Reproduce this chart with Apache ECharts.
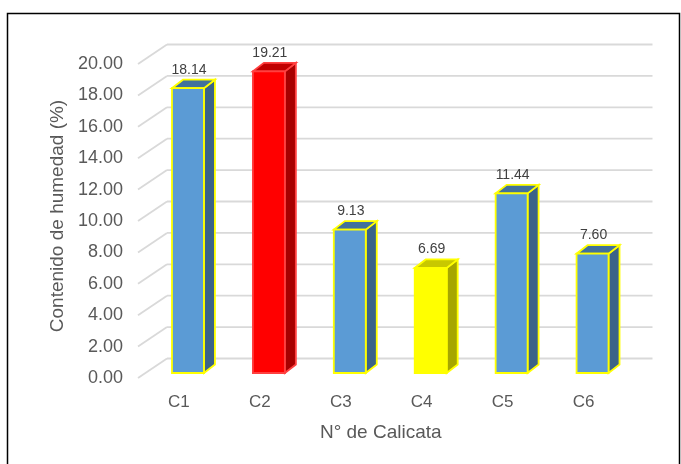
<!DOCTYPE html>
<html><head><meta charset="utf-8">
<script src="https://cdn.jsdelivr.net/npm/echarts@6/dist/echarts.min.js"></script>
<style>html,body{margin:0;padding:0;background:#fff}#c{width:681px;height:464px}</style>
</head><body><div id="c"></div>
<script>
// ---- data ----
const categories = ['C1', 'C2', 'C3', 'C4', 'C5', 'C6'];
const values = [18.14, 19.21, 9.13, 6.69, 11.44, 7.60];
const barKinds = ['blue', 'red', 'blue', 'yellow', 'blue', 'blue'];
const yTicks = [0, 2, 4, 6, 8, 10, 12, 14, 16, 18, 20];
const xTitle = 'N° de Calicata';
const yTitle = 'Contenido de humedad (%)';

// ---- style ----
const FONT = "'Liberation Sans', Arial, sans-serif";
const palette = {
  blue:   { front: '#5B9BD5', side: '#3B6388', top: '#41719C', edge: '#FFFF00' },
  red:    { front: '#FF0000', side: '#A80000', top: '#C00000', edge: '#FF4040' },
  yellow: { front: '#FFFF00', side: '#A6A600', top: '#C8C800', edge: '#FFFF00' }
};
const DX = 11, DY = 8.5;              // bar depth
const WALL_DX = 19.5, WALL_DY = -14.5; // back wall offset
const LAB_DX = -9.5, LAB_DY = 5;       // front label plane offset
const GRID_COLOR = '#D9D9D9';

const chart = echarts.init(document.getElementById('c'), null, { renderer: 'canvas' });

const option = {
  animation: false,
  backgroundColor: '#fff',
  graphic: [{
    type: 'rect', shape: { x: 7.5, y: 13.5, width: 672, height: 470 },
    style: { fill: 'none', stroke: '#000', lineWidth: 1.5 }, z: 100
  }],
  grid: { left: 147.5, right: 681 - 633, top: 59, bottom: 464 - 373 },
  xAxis: {
    type: 'category', data: categories,
    axisLine: { show: false }, axisTick: { show: false }, splitLine: { show: false },
    axisLabel: { color: '#595959', fontSize: 17, fontFamily: FONT, margin: 21, padding: [0, 18, 0, 0] },
    name: xTitle, nameLocation: 'middle', nameGap: 50,
    nameTextStyle: { color: '#595959', fontSize: 19, fontFamily: FONT, padding: [0, 19, 0, 0] }
  },
  yAxis: {
    type: 'value', min: 0, max: 20, interval: 2,
    axisLine: { show: false }, axisTick: { show: false }, splitLine: { show: false },
    axisLabel: { color: '#595959', fontSize: 18, fontFamily: FONT, margin: 24.5,
      verticalAlign: 'top', lineHeight: 10,
      formatter: v => v.toFixed(2) },
    name: yTitle, nameLocation: 'middle', nameGap: 74,
    nameTextStyle: { color: '#595959', fontSize: 19, fontFamily: FONT }
  },
  series: [
    {
      type: 'custom', z: 1, silent: true,
      data: yTicks.map(v => [0, v]),
      encode: { x: 0, y: 1 },
      renderItem: function (params, api) {
        const v = api.value(1);
        const y = api.coord([0, v])[1];
        const cs = params.coordSys;
        const xl = cs.x, xr = cs.x + cs.width;
        const st = { stroke: GRID_COLOR, lineWidth: 1.8, fill: 'none' };
        return { type: 'group', children: [
          { type: 'line', shape: { x1: xl + LAB_DX, y1: y + LAB_DY, x2: xl + WALL_DX, y2: y + WALL_DY }, style: st },
          { type: 'line', shape: { x1: xl + WALL_DX, y1: y + WALL_DY, x2: xr + WALL_DX, y2: y + WALL_DY }, style: st }
        ]};
      }
    },
    {
      type: 'custom', z: 5,
      data: values.map((v, i) => [i, v]),
      encode: { x: 0, y: 1 },
      renderItem: function (params, api) {
        const idx = api.value(0), v = api.value(1);
        const top = api.coord([idx, v]);
        const base = api.coord([idx, 0]);
        const bw = api.size([1, 0])[0] * 0.395;
        const x0 = top[0] - bw / 2, x1 = top[0] + bw / 2, yT = top[1], yB = base[1];
        const c = palette[barKinds[params.dataIndex]];
        const lw = 1.8;
        return { type: 'group', children: [
          { type: 'polygon', shape: { points: [[x1, yB], [x1 + DX, yB - DY], [x1 + DX, yT - DY], [x1, yT]] },
            style: { fill: c.side, stroke: c.edge, lineWidth: lw } },
          { type: 'polygon', shape: { points: [[x0, yT], [x1, yT], [x1 + DX, yT - DY], [x0 + DX, yT - DY]] },
            style: { fill: c.top, stroke: c.edge, lineWidth: lw } },
          { type: 'rect', shape: { x: x0, y: yT, width: bw, height: yB - yT },
            style: { fill: c.front, stroke: c.edge, lineWidth: lw } },
          { type: 'text', x: top[0] + 1, y: yT - DY - 3,
            style: { text: v.toFixed(2), align: 'center', verticalAlign: 'bottom', fill: '#404040',
              font: '14px ' + FONT } }
        ]};
      }
    }
  ]
};
chart.setOption(option);
</script>
</body></html>
